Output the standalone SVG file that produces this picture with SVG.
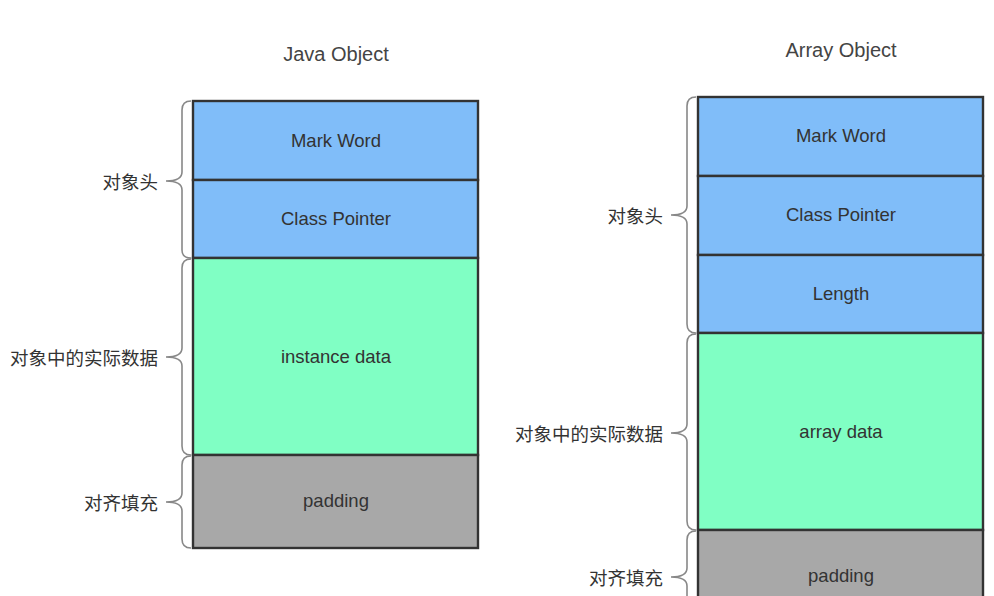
<svg xmlns="http://www.w3.org/2000/svg" width="994" height="596" viewBox="0 0 994 596">
<style>
.t{font-family:"Liberation Sans","DejaVu Sans",sans-serif;font-size:18.5px;fill:#333;text-anchor:middle;dominant-baseline:central}
.c{font-family:"Noto Sans CJK SC","Liberation Sans",sans-serif;font-size:18.5px;fill:#333;text-anchor:end;dominant-baseline:central}
.h{font-family:"Liberation Sans","DejaVu Sans",sans-serif;font-size:20px;fill:#444;text-anchor:middle;dominant-baseline:central}
.b{fill:#80bdf9;stroke:#333;stroke-width:2.4}
.g{fill:#80ffc4;stroke:#333;stroke-width:2.4}
.p{fill:#a8a8a8;stroke:#333;stroke-width:2.4}
.br{fill:none;stroke:#888;stroke-width:1.6}
</style>
<rect width="994" height="596" fill="#fff"/>
<text class="h" x="336" y="54">Java Object</text>
<text class="h" x="841" y="50">Array Object</text>
<g id="java-markword"><rect class="b" x="193" y="101" width="285" height="79"/><text class="t" x="336" y="140">Mark Word</text></g>
<g id="java-classpointer"><rect class="b" x="193" y="180" width="285" height="78"/><text class="t" x="336" y="218">Class Pointer</text></g>
<g id="java-instancedata"><rect class="g" x="193" y="258" width="285" height="197"/><text class="t" x="336" y="356">instance data</text></g>
<g id="java-padding"><rect class="p" x="193" y="455" width="285" height="93"/><text class="t" x="336" y="500">padding</text></g>
<g id="arr-markword"><rect class="b" x="698" y="97" width="285" height="79"/><text class="t" x="841" y="135">Mark Word</text></g>
<g id="arr-classpointer"><rect class="b" x="698" y="176" width="285" height="79"/><text class="t" x="841" y="214">Class Pointer</text></g>
<g id="arr-length"><rect class="b" x="698" y="255" width="285" height="78"/><text class="t" x="841" y="293">Length</text></g>
<g id="arr-arraydata"><rect class="g" x="698" y="333" width="285" height="197"/><text class="t" x="841" y="431">array data</text></g>
<g id="arr-padding"><rect class="p" x="698" y="530" width="285" height="80"/><text class="t" x="841" y="575">padding</text></g>
<g id="connectors">
<path class="br" d="M191 101 Q182 101 182 110 L182 172 Q182 181 166 181 Q182 181 182 190 L182 250 Q182 258 191 258"/>
<path class="br" d="M191 259 Q182 259 182 268 L182 348 Q182 357 166 357 Q182 357 182 366 L182 446 Q182 455 191 455"/>
<path class="br" d="M191 456 Q182 456 182 465 L182 493 Q182 502 166 502 Q182 502 182 511 L182 539 Q182 548 191 548"/>
<path class="br" d="M696 97 Q687 97 687 106 L687 206 Q687 215 671 215 Q687 215 687 224 L687 324 Q687 333 696 333"/>
<path class="br" d="M696 334 Q687 334 687 343 L687 424 Q687 433 671 433 Q687 433 687 442 L687 521 Q687 530 696 530"/>
<path class="br" d="M696 531 Q687 531 687 540 L687 568 Q687 577 671 577 Q687 577 687 586 L687 600"/>
</g>
<g id="labels">
<text class="c" x="158" y="181">对象头</text>
<text class="c" x="158" y="357">对象中的实际数据</text>
<text class="c" x="158" y="502">对齐填充</text>
<text class="c" x="663" y="215">对象头</text>
<text class="c" x="663" y="433">对象中的实际数据</text>
<text class="c" x="663" y="577">对齐填充</text>
</g>
</svg>
